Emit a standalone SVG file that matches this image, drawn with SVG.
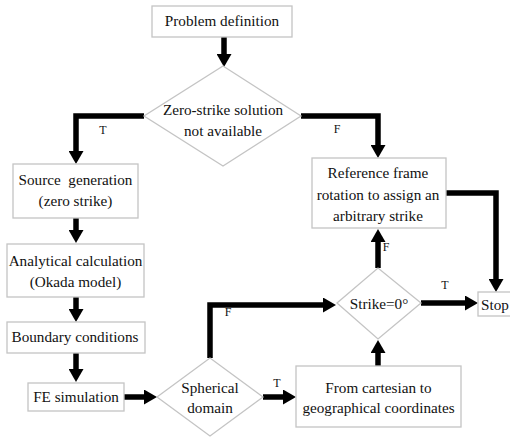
<svg xmlns="http://www.w3.org/2000/svg" width="510" height="437" viewBox="0 0 510 437">
<defs>
<style>
.box{fill:#fff;stroke:#c4c4c4;stroke-width:1.3}
.t{font-family:"Liberation Serif","Times New Roman",serif;font-size:15.2px;fill:#111;text-anchor:middle}
.lab{font-family:"Liberation Serif","Times New Roman",serif;font-size:12px;fill:#111;text-anchor:middle}
.c{fill:none;stroke:#000;stroke-width:5.5;stroke-linejoin:miter;stroke-linecap:butt;marker-end:url(#ah)}
</style>
<marker id="ah" viewBox="0 0 13 15" refX="1" refY="7.5" markerWidth="13" markerHeight="15" markerUnits="userSpaceOnUse" orient="auto">
<path d="M0,0 L13,7.5 L0,15 Z" fill="#000"/>
</marker>
</defs>
<rect width="510" height="437" fill="#fff"/>
<g id="connectors">
<path class="c" d="M224,37 V55"/>
<path class="c" d="M144,116 H76 V152"/>
<path class="c" d="M301,116 H378 V146"/>
<path class="c" d="M76,218 V231"/>
<path class="c" d="M76,297 V310"/>
<path class="c" d="M76,353 V370"/>
<path class="c" d="M124,397 H145"/>
<path class="c" d="M210,358 V305 H324"/>
<path class="c" d="M263,397 H284"/>
<path class="c" d="M378,366 V352"/>
<path class="c" d="M378,268 V241"/>
<path class="c" d="M421,303 H466"/>
<path class="c" d="M446,193 H496 V280"/>
<text class="lab" x="103" y="134">T</text>
<text class="lab" x="337" y="133">F</text>
<text class="lab" x="228" y="316">F</text>
<text class="lab" x="277" y="387">T</text>
<text class="lab" x="386" y="251">F</text>
<text class="lab" x="445" y="289">T</text>
</g>
<g id="problem">
<rect class="box" x="152" y="6" width="140" height="31"/>
<text class="t" x="222" y="26">Problem definition</text>
</g>
<g id="zero-strike">
<polygon class="box" points="223,66 301,116 223,166 144,116"/>
<text class="t" x="223" y="115">Zero-strike solution</text>
<text class="t" x="223" y="136">not available</text>
</g>
<g id="source">
<rect class="box" x="13" y="164" width="125" height="54"/>
<text class="t" x="75.5" y="185" xml:space="preserve">Source  generation</text>
<text class="t" x="75.5" y="206">(zero strike)</text>
</g>
<g id="analytical">
<rect class="box" x="7" y="244" width="137" height="53"/>
<text class="t" x="75.5" y="266">Analytical calculation</text>
<text class="t" x="75.5" y="287">(Okada model)</text>
</g>
<g id="boundary">
<rect class="box" x="7" y="322" width="138" height="31"/>
<text class="t" x="75" y="342">Boundary conditions</text>
</g>
<g id="fe">
<rect class="box" x="28" y="383" width="96" height="28"/>
<text class="t" x="76" y="402">FE simulation</text>
</g>
<g id="spherical">
<polygon class="box" points="157,397 210,358 263,397 210,436"/>
<text class="t" x="210" y="393">Spherical</text>
<text class="t" x="210" y="413">domain</text>
</g>
<g id="cartesian">
<rect class="box" x="296" y="366" width="165" height="61"/>
<text class="t" x="378.5" y="393">From cartesian to</text>
<text class="t" x="378.5" y="413">geographical coordinates</text>
</g>
<g id="strike">
<polygon class="box" points="337,303 378,268 421,303 378,339"/>
<text class="t" x="379" y="309">Strike=0°</text>
</g>
<g id="reference">
<rect class="box" x="312" y="158" width="134" height="70"/>
<text class="t" x="378" y="178">Reference frame</text>
<text class="t" x="378" y="200">rotation to assign an</text>
<text class="t" x="378" y="221">arbitrary strike</text>
</g>
<g id="stop">
<rect class="box" x="478" y="292" width="40" height="24"/>
<text class="t" x="481" y="310" style="text-anchor:start">Stop</text>
</g>
</svg>
